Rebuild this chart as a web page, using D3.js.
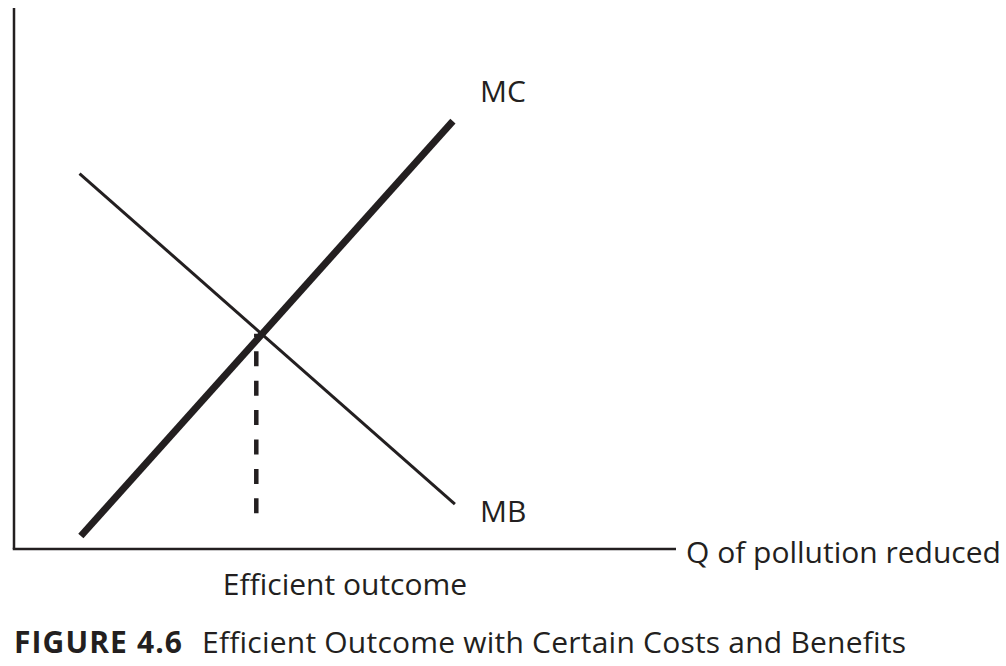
<!DOCTYPE html>
<html>
<head>
<meta charset="utf-8">
<script src="https://cdn.jsdelivr.net/npm/d3@7"></script>
<style>
  body { margin: 0; background: #fff; }
  text { font-family: "Open Sans", Lato, sans-serif; fill: #231f20; }
</style>
</head>
<body>
<div id="chart"></div>
<script>
// plot is schematic: both axes run 0..100 (no ticks)
width = 1006
height = 666

// curve end points
mcQ = [10.1, 66.3]
mcP = [2.4, 79.1]
mbQ = [9.9, 66.6]
mbP = [69.4, 8.3]

efficientQ = 36.6
dashP = [6.6, 39.8]   // drawn bottom-up so a full dash sits at the foot

labels = ["MC", "MB"]
xLabel = "Q of pollution reduced"
effLabel = "Efficient outcome"
figNum = "FIGURE 4.6"
figTitle = "Efficient Outcome with Certain Costs and Benefits"

x = d3.scaleLinear().domain([0, 100]).range([14, 676])
y = d3.scaleLinear().domain([0, 100]).range([549, 8])

const ink = "#231f20"

svg = d3.select("#chart").append("svg").attr("width", width).attr("height", height)

// axes (plain lines, no ticks)
svg.append("line")
  .attr("x1", x(0)).attr("y1", y(100)).attr("x2", x(0)).attr("y2", y(0))
  .attr("stroke", ink).attr("stroke-width", 2.5)
svg.append("line")
  .attr("x1", x(0) - 1.25).attr("y1", y(0)).attr("x2", x(100)).attr("y2", y(0))
  .attr("stroke", ink).attr("stroke-width", 2.5)

line = d3.line().x(d => x(d[0])).y(d => y(d[1]))

// dashed drop line at the efficient quantity
svg.append("path")
  .attr("d", line([[efficientQ, dashP[0]], [efficientQ, dashP[1]]]))
  .attr("stroke", ink).attr("stroke-width", 4.5).attr("fill", "none")
  .attr("stroke-dasharray", "15,14.4")

svg.append("path")
  .attr("d", line(d3.zip(mbQ, mbP)))
  .attr("stroke", ink).attr("stroke-width", 3).attr("fill", "none")

svg.append("path")
  .attr("d", line(d3.zip(mcQ, mcP)))
  .attr("stroke", ink).attr("stroke-width", 7).attr("fill", "none")

svg.append("text").attr("x", 480).attr("y", 102).attr("font-size", 30).text(labels[0])
svg.append("text").attr("x", 480).attr("y", 522).attr("font-size", 30).text(labels[1])

svg.append("text").attr("x", 686).attr("y", 563).attr("font-size", 30).text(xLabel)

svg.append("text").attr("x", 345).attr("y", 595).attr("font-size", 30)
  .attr("text-anchor", "middle").text(effLabel)

svg.append("text").attr("x", 14).attr("y", 653).attr("font-size", 30)
  .attr("font-weight", "bold").attr("letter-spacing", 1.1).text(figNum)
svg.append("text").attr("x", 202).attr("y", 653).attr("font-size", 30)
  .attr("letter-spacing", 0.22).text(figTitle)
</script>
</body>
</html>
